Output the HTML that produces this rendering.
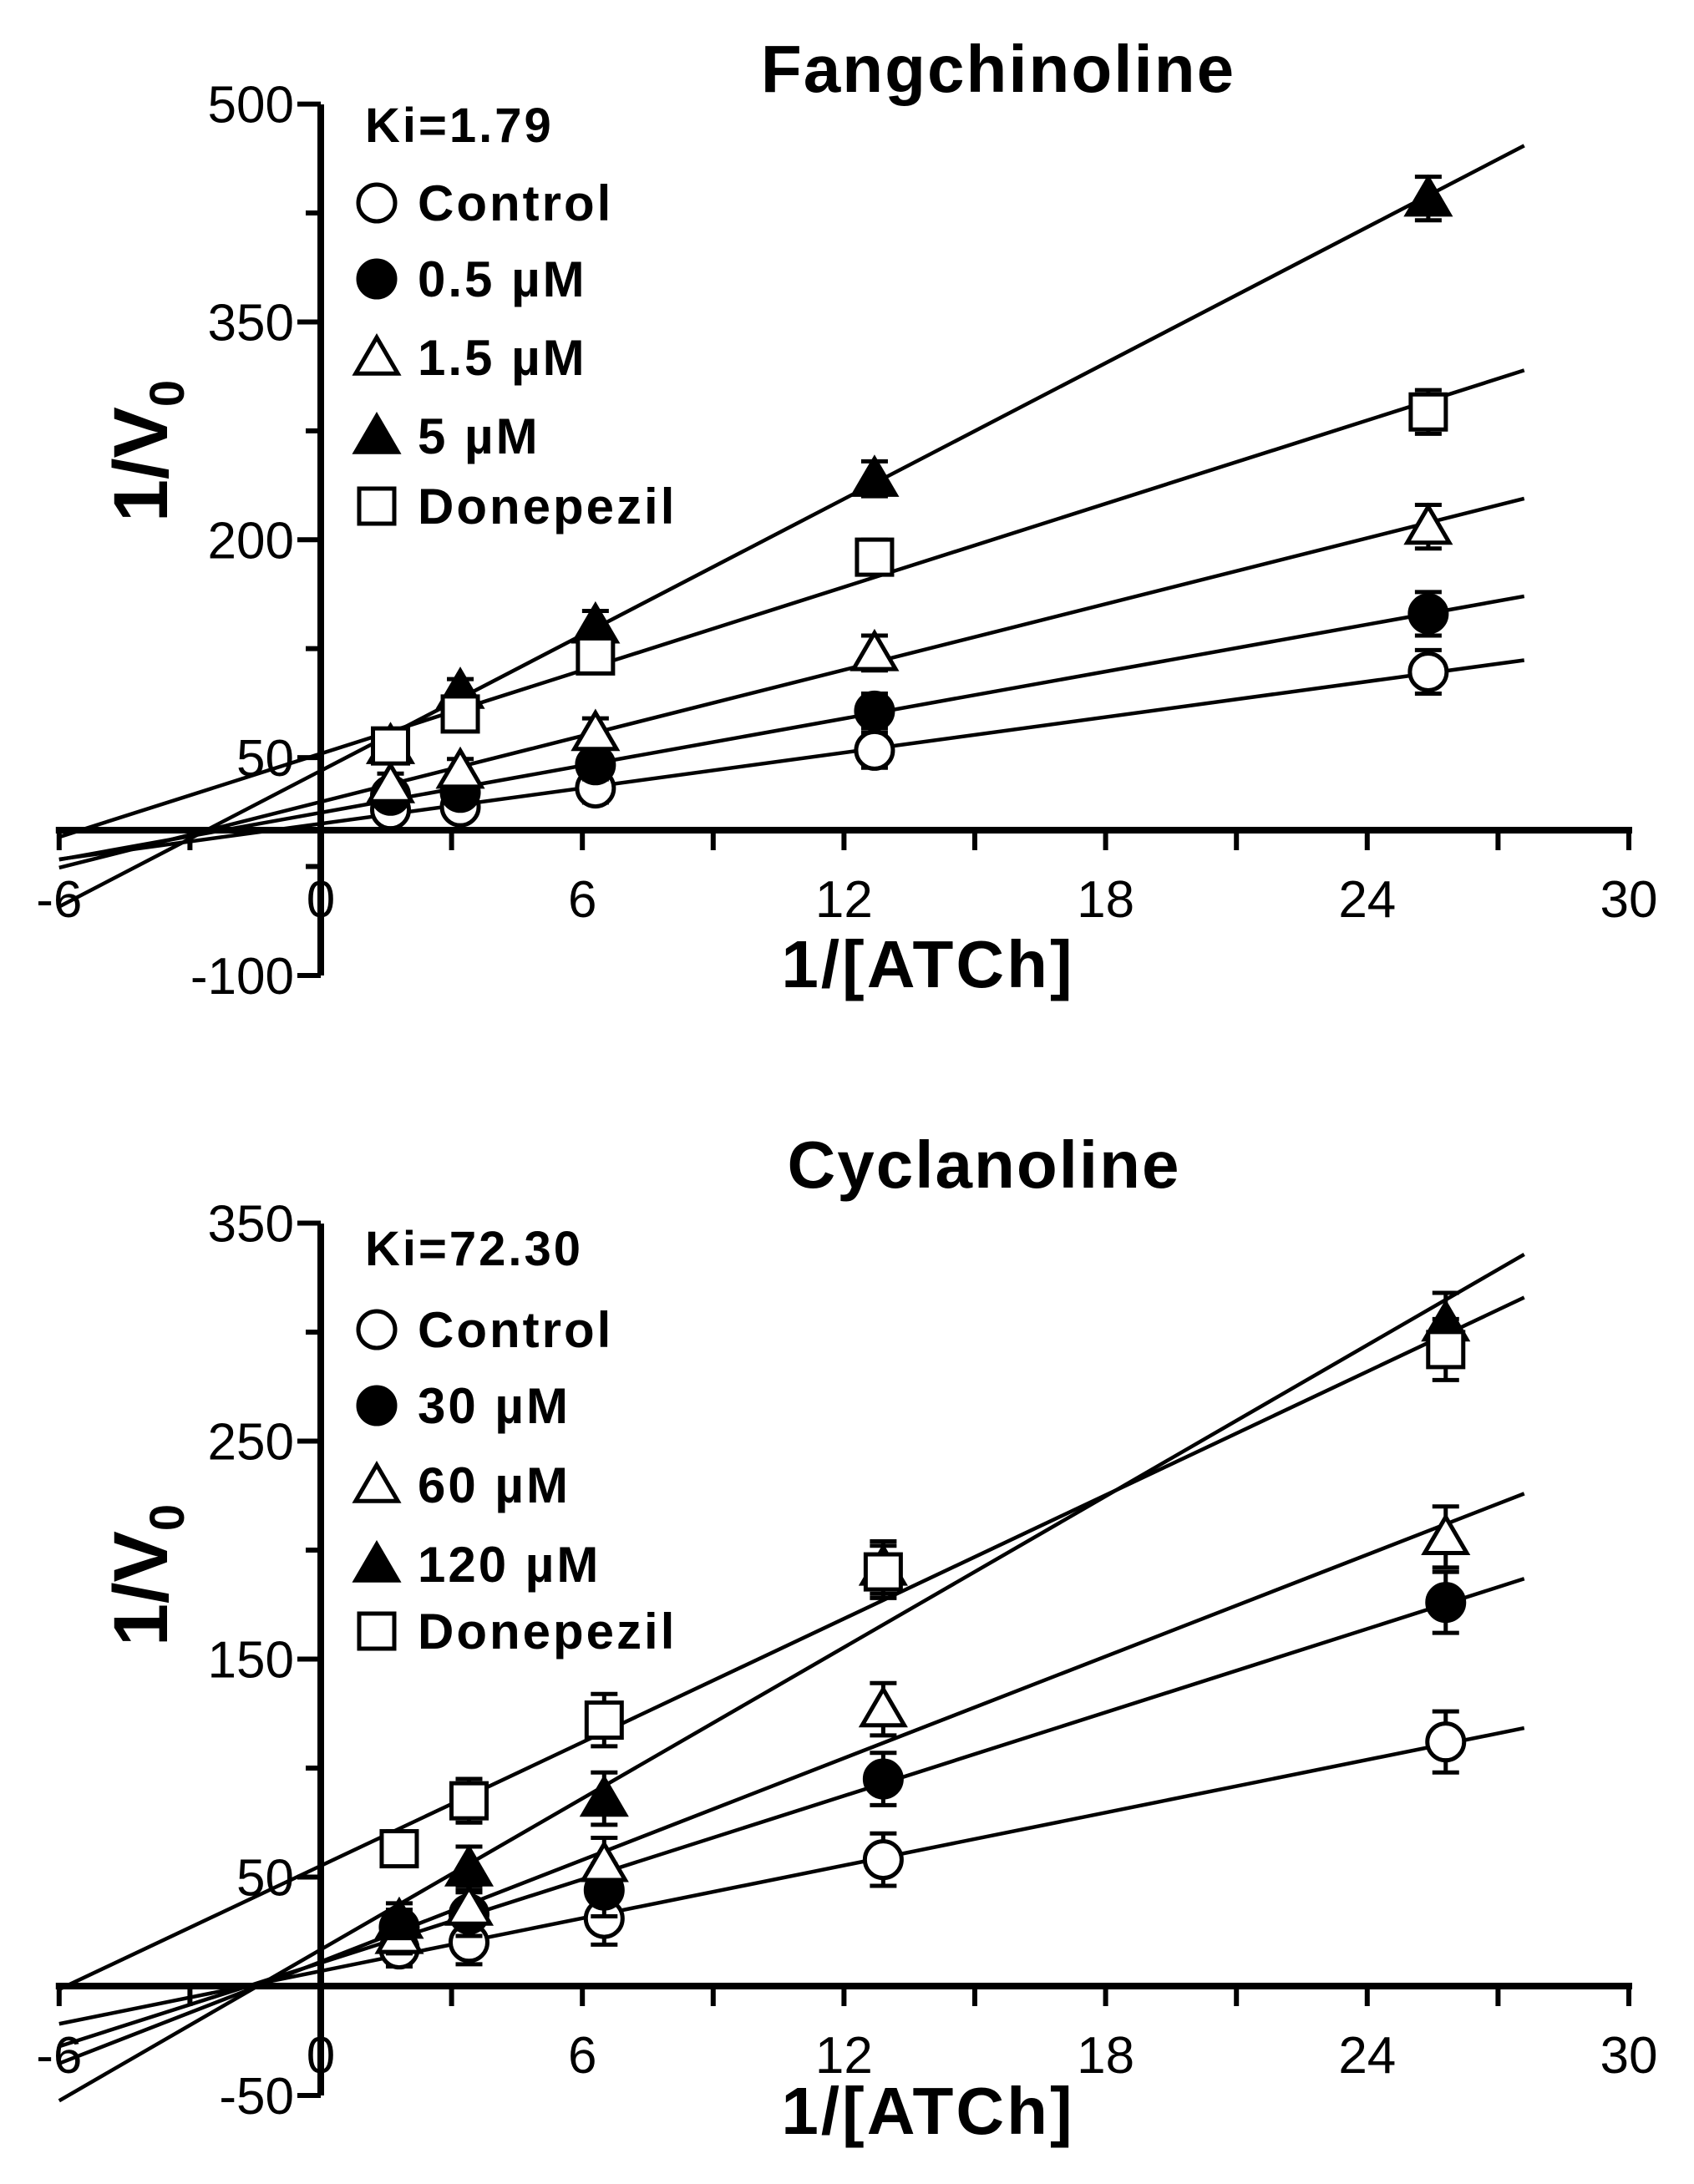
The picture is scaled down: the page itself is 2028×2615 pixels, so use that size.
<!DOCTYPE html>
<html><head><meta charset="utf-8"><style>
body{margin:0;background:#fff}
svg{display:block}
text{font-family:"Liberation Sans",Arial,sans-serif;fill:#000}
</style></head><body>
<svg id="s" width="2028" height="2615" viewBox="0 0 2028 2615"></svg>
<script>
const xValsTop=[1.6,3.2,6.3,12.7,25.4];
const topNames=["Control","0.5 µM","1.5 µM","5 µM","Donepezil"];
const topControl=[14,16,29,55,109];
const top05=[24,26,45,82,149];
const top15=[31,41,67,122,209];
const top5=[58,96,141,242,435];
const topDon=[58,80,120,188,288];
const topErr=[8,8,10,12,15];
const topYTicks=[500,350,200,50,-100];
const xTicks=[-6,0,6,12,18,24,30];

const xValsBot=[1.8,3.4,6.5,12.9,25.8];
const botNames=["Control","30 µM","60 µM","120 µM","Donepezil"];
const botControl=[17,20,31,58,112];
const bot30=[27,33,44,95,176];
const bot60=[23,36,56,127,206];
const bot120=[30,54,86,192,304];
const botDon=[63,85,122,190,292];
const botErr=[8,10,12,12,14];
const botYTicks=[350,250,150,50,-50];

const NS="http://www.w3.org/2000/svg";
const svg=document.getElementById('s');
function el(tag,attrs,parent){const e=document.createElementNS(NS,tag);for(const k in attrs)e.setAttribute(k,attrs[k]);(parent||svg).appendChild(e);return e;}
function txt(str,attrs,parent){const e=el('text',attrs,parent);e.textContent=str;return e;}

function marker(g,type,cx,cy){
  const sw=5;
  let m;
  if(type===0||type===1){m=el('circle',{cx:cx,cy:cy,r:22,fill:type?'#000':'#fff',stroke:'#000','stroke-width':sw},g);}
  else if(type===2||type===3){const h=24;m=el('polygon',{points:`${cx},${cy-h} ${cx+h*1.05},${cy+h*0.8} ${cx-h*1.05},${cy+h*0.8}`,fill:type===3?'#000':'#fff',stroke:'#000','stroke-width':sw},g);}
  else {m=el('rect',{x:cx-21,y:cy-21,width:42,height:42,fill:'#fff',stroke:'#000','stroke-width':sw},g);}
  return m;
}

function chart(cfg){
  const g=el('g',{});
  
  
  const X=v=>cfg.x0+v*cfg.xs;
  const Y=v=>cfg.y0-v*cfg.ys;
  const ya=el('line',{x1:X(0),y1:cfg.yTop,x2:X(0),y2:cfg.yBot,stroke:'#000','stroke-width':8},g);
  
  
  const xa=el('line',{x1:X(-6)-4,y1:Y(0),x2:X(30)+4,y2:Y(0),stroke:'#000','stroke-width':8},g);
  
  
  for(let v=-6;v<=30;v+=3){
    const t=el('line',{x1:X(v),y1:Y(0),x2:X(v),y2:Y(0)+24,stroke:'#000','stroke-width':6},g);
    
    
  }
  xTicks.forEach(v=>{
    const t=txt(String(v),{x:X(v),y:cfg.xLabY,'text-anchor':'middle','font-size':62},g);
    
    
  });
  const yt=cfg.yTicks;
  const step=yt[0]-yt[1];
  for(let i=0;i<yt.length;i++){
    const v=yt[i];const yy=(i===yt.length-1)?cfg.yBot:Y(v);
    const t=el('line',{x1:X(0)-28,y1:yy,x2:X(0),y2:yy,stroke:'#000','stroke-width':6},g);
    
    
    const l=txt(String(v),{x:X(0)-32,y:yy+22,'text-anchor':'end','font-size':62},g);
    
    
    if(i<yt.length-1){
      const mv=v-step/2;const my=(i===yt.length-2)?(Y(yt[i])+cfg.yBot)/2:Y(mv);
      const mt=el('line',{x1:X(0)-18,y1:my,x2:X(0),y2:my,stroke:'#000','stroke-width':6},g);
      
      
    }
  }
  cfg.series.forEach((s,si)=>{
    const n=cfg.xv.length;let sx=0,sy=0,sxx=0,sxy=0;
    for(let i=0;i<n;i++){sx+=cfg.xv[i];sy+=s[i];sxx+=cfg.xv[i]**2;sxy+=cfg.xv[i]*s[i];}
    const b=(n*sxy-sx*sy)/(n*sxx-sx*sx);const a=(sy-b*sx)/n;
    const ln=el('line',{x1:X(-6),y1:Y(a+b*-6),x2:X(27.6),y2:Y(a+b*27.6),stroke:'#000','stroke-width':4.5},g);
    
    
  });
  cfg.series.forEach((s,si)=>{
    s.forEach((v,i)=>{
      const cx=X(cfg.xv[i]),cy=Y(v),e=cfg.err[i]*cfg.ys;
      const eb=el('path',{d:`M${cx},${cy-e}V${cy+e}M${cx-16},${cy-e}H${cx+16}M${cx-16},${cy+e}H${cx+16}`,stroke:'#000','stroke-width':5,fill:'none'},g);
      
      
      const m=marker(g,si,cx,cy);
      
      
    });
  });
  const tt=txt(cfg.title,{x:cfg.titleX,y:cfg.titleY,'text-anchor':'middle','font-size':80,'font-weight':'bold','letter-spacing':2},g);
  
  
  const xl=txt('1/[ATCh]',{x:1111,y:cfg.xTitleY,'text-anchor':'middle','font-size':80,'font-weight':'bold','letter-spacing':3},g);
  
  
  const yl=el('text',{transform:`translate(200,${cfg.yTitleY}) rotate(-90)`,'text-anchor':'middle','font-size':92,'font-weight':'bold'},g);
  yl.innerHTML='1/V<tspan font-size="58" dy="20">0</tspan>';
  
  
  const ki=txt(cfg.ki,{x:437,y:cfg.kiY,'font-size':58,'font-weight':'bold','letter-spacing':3},g);
  
  
  cfg.names.forEach((nm,i)=>{
    const cy=cfg.legY[i];
    const lg=el('g',{},g);
    
    
    marker(lg,i,451,cy);
    txt(nm,{x:500,y:cy+21,'font-size':60,'font-weight':'bold','letter-spacing':3},lg);
  });
}

chart({name:'fangchinoline-chart',x0:384,xs:52.2,y0:994,ys:1.7387,yTop:125,yBot:1168,
  xLabY:1098,yTicks:topYTicks,xv:xValsTop,series:[topControl,top05,top15,top5,topDon],err:topErr,
  title:'Fangchinoline',titleX:1195,titleY:110,xTitleY:1182,yTitleY:540,ki:'Ki=1.79',kiY:170,
  names:topNames,legY:[243,334,428,522,606]});
chart({name:'cyclanoline-chart',x0:384,xs:52.2,y0:2378,ys:2.61,yTop:1465,yBot:2509,
  xLabY:2482,yTicks:botYTicks,xv:xValsBot,series:[botControl,bot30,bot60,bot120,botDon],err:botErr,
  title:'Cyclanoline',titleX:1178,titleY:1422,xTitleY:2555,yTitleY:1886,ki:'Ki=72.30',kiY:1515,
  names:botNames,legY:[1592,1683,1778,1873,1953]});
</script>
</body></html>
